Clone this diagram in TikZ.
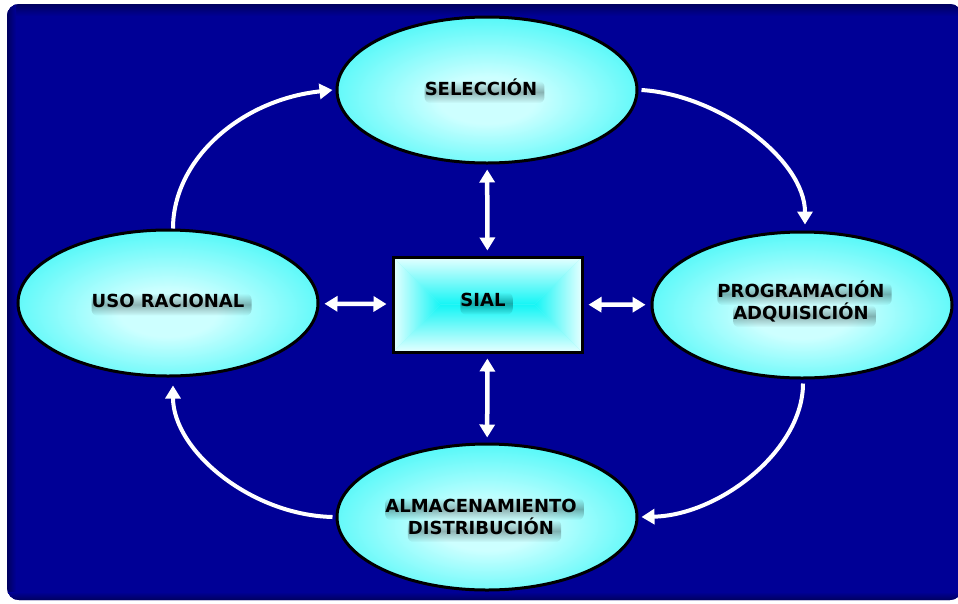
\documentclass[tikz,border=0pt]{standalone}
\usepackage{fontspec}
\setmainfont{DejaVu Sans}
\usetikzlibrary{shapes.geometric,arrows.meta,fadings}
\definecolor{bgblue}{RGB}{0,0,150}
\definecolor{bgdark}{RGB}{0,0,95}
\definecolor{cyanhi}{RGB}{205,255,255}
\definecolor{cyanmain}{RGB}{20,245,245}
\definecolor{boxedge}{RGB}{230,255,255}
\definecolor{boxmid}{RGB}{120,250,250}
\pgfdeclareradialshading{ellshade}{\pgfpoint{0bp}{-4bp}}{color(0bp)=(cyanhi); color(8bp)=(cyanhi); color(38bp)=(cyanmain); color(60bp)=(cyanmain)}
\tikzfading[name=vfade, top color=transparent!100, bottom color=transparent!100, middle color=transparent!25]
\pgfdeclarelayer{front}
\pgfsetlayers{main,front}
\begin{document}
\begin{tikzpicture}[x=1pt,y=-1pt,
  ell/.style={ellipse, draw=black, line width=3pt, shading=ellshade, minimum width=300pt, minimum height=146pt, inner sep=0pt},
  lbl/.style={font=\fontsize{18}{21}\selectfont\bfseries, text=black, inner sep=0pt, anchor=base, text height=13pt, text depth=0pt},
  txtshadow/.style={fill=black, opacity=0.4, path fading=vfade, rounded corners=6pt},
  dbl/.style={draw=white, line width=4.5pt, {Triangle[width=15pt,length=13pt]}-{Triangle[width=15pt,length=13pt]}, shorten <=5pt, shorten >=5pt},
  cur/.style={draw=white, line width=4pt, -{Triangle[width=15pt,length=13pt]}}
]
\useasboundingbox (0,0) rectangle (958,603);
\fill[white] (0,0) rectangle (958,603);
\begin{scope}
  \clip[rounded corners=12pt] (7,4) rectangle (962,600);
  \fill[bgblue] (0,0) rectangle (962,603);
  \shade[top color=bgdark, bottom color=bgblue] (0,4) rectangle (962,16);
  \shade[left color=bgdark, right color=bgblue] (7,0) rectangle (16,603);
  \shade[top color=bgblue, bottom color=bgdark] (0,592) rectangle (962,600);
\end{scope}

% SIAL box shading
\fill[boxmid] (393,257) rectangle (582,352);
\shade[top color=boxedge, bottom color=cyanmain] (393,257) -- (582,257) -- (534.5,304.5) -- (440.5,304.5) -- cycle;
\shade[top color=cyanmain, bottom color=boxedge] (393,352) -- (582,352) -- (534.5,304.5) -- (440.5,304.5) -- cycle;
\shade[left color=boxedge, right color=cyanmain] (393,257) -- (440.5,304.5) -- (393,352) -- cycle;
\shade[left color=cyanmain, right color=boxedge] (582,257) -- (534.5,304.5) -- (582,352) -- cycle;
\node[draw=black, line width=3pt, minimum width=189pt, minimum height=95pt, inner sep=0pt] (sial) at (487.5,304.5) {};

% ellipses
\node[ell] (sel) at (487,90) {};
\node[ell] (uso) at (168,303) {};
\node[ell] (prog) at (802,305) {};
\node[ell] (alm) at (487,517) {};

% labels (front layer)
\begin{pgfonlayer}{front}
\node[lbl] (selT) at (481,95) {SELECCIÓN};
\node[lbl] (usoT) at (168,307.5) {USO RACIONAL};
\node[lbl] (progA) at (801,297) {PROGRAMACIÓN};
\node[lbl] (progB) at (801,319) {ADQUISICIÓN};
\node[lbl] (almA) at (481,512) {ALMACENAMIENTO};
\node[lbl] (almB) at (481,534) {DISTRIBUCIÓN};
\node[lbl] (sialT) at (483,306.5) {SIAL};
\end{pgfonlayer}

% soft text shadows
\foreach \t in {selT,usoT,progA,progB,almA,almB,sialT}{
  \fill[txtshadow] ([shift={(0pt,-8pt)}]\t.south west) rectangle ([shift={(7pt,1pt)}]\t.north east);
}

% double arrows
\draw[dbl] (sel) -- (sial);
\draw[dbl] (sial) -- (alm);
\draw[dbl] (uso) -- (sial);
\draw[dbl] (sial) -- (prog);

% cycle arrows
\draw[cur] ([xshift=5pt]uso.north) .. controls (173,160) and (240,100) .. ([xshift=-3pt]sel.west);
\draw[cur] ([xshift=3pt]sel.east) .. controls (720,95) and (805,160) .. ([xshift=3pt,yshift=6pt]prog.north);
\draw[cur] ([xshift=1pt,yshift=-4pt]prog.south) .. controls (803,450) and (720,515) .. ([xshift=3pt]alm.east);
\draw[cur] ([xshift=-3pt]alm.west) .. controls (250,515) and (173,450) .. ([xshift=5pt,yshift=-8pt]uso.south);
\end{tikzpicture}
\end{document}
